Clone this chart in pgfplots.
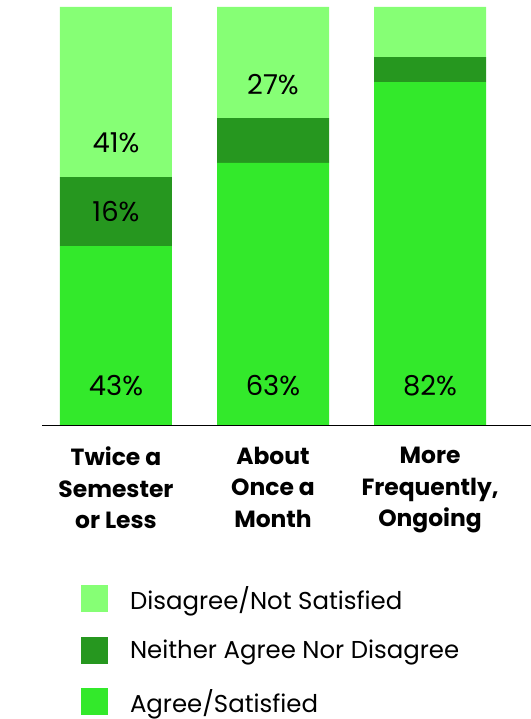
\documentclass[border=0pt]{standalone}
\usepackage{pgfplots}
\pgfplotsset{compat=1.18}
\usepackage{fontspec}
\setmainfont{Poppins}
\definecolor{cLight}{HTML}{86FF75}
\definecolor{cDark}{HTML}{26971F}
\definecolor{cBright}{HTML}{33E92B}
\tikzset{pct/.style={font=\fontsize{27.5}{30}\selectfont, text=black}}
\begin{document}
\begin{tikzpicture}[x=1bp,y=1bp]
\useasboundingbox (0,0) rectangle (531,719);
\begin{axis}[
  at={(42bp,294bp)}, anchor=south west,
  scale only axis, width=489bp, height=418bp,
  xmin=-0.471, xmax=2.643, ymin=0, ymax=100,
  ybar stacked, bar width=112bp,
  axis x line*=bottom, axis y line=none,
  x axis line style={black, line width=0.8bp},
  xtick={0,1,2},
  xticklabels={{Twice a\\Semester\\or Less},{About\\Once a\\Month},{More\\Frequently,\\Ongoing}},
  xticklabel style={align=center, font=\fontsize{23.5}{31.5}\selectfont\bfseries, inner sep=0pt, yshift=-22bp},
  major tick length=0pt,
  ytick=\empty,
  clip=false,
  reverse legend,
  legend cell align=left,
  legend image code/.code={\fill[#1] (0bp,-13.5bp) rectangle (27bp,13.5bp);},
  legend style={at={(rel axis cs:0.0798,-0.383)}, anchor=north west, draw=none, fill=none,
    inner sep=0pt, outer sep=0pt, row sep=24.5bp, column sep=22bp,
    nodes={inner sep=0pt}, font=\fontsize{24.5}{28}\selectfont},
]
\addplot[fill=cBright, draw=none] coordinates {(0,42.8) (1,62.7) (2,82)};
\addlegendentry{Agree/Satisfied}
\addplot[fill=cDark, draw=none] coordinates {(0,16.5) (1,10.7) (2,6)};
\addlegendentry{Neither Agree Nor Disagree}
\addplot[fill=cLight, draw=none] coordinates {(0,40.7) (1,26.6) (2,12)};
\addlegendentry{Disagree/Not Satisfied}
\coordinate (a0) at (axis cs:0,9.4);
\coordinate (a1) at (axis cs:1,9.4);
\coordinate (a2) at (axis cs:2,9.4);
\coordinate (n0) at (axis cs:0,51.0);
\coordinate (d0) at (axis cs:0,67.5);
\coordinate (d1) at (axis cs:1,81.4);
\end{axis}
\node[pct] at (a0) {43\%};
\node[pct] at (a1) {63\%};
\node[pct] at (a2) {82\%};
\node[pct] at (n0) {16\%};
\node[pct] at (d0) {41\%};
\node[pct] at (d1) {27\%};
\end{tikzpicture}
\end{document}
